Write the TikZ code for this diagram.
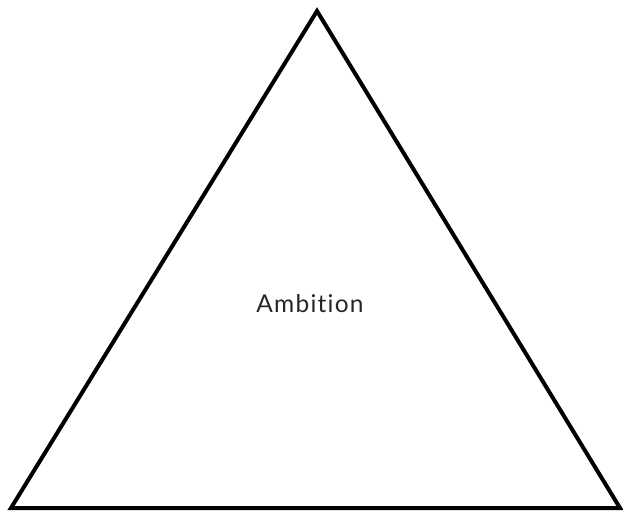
\documentclass[tikz,border=0pt]{standalone}
\usepackage{fontspec}
\setmainfont{Lato}[Ligatures={NoCommon,NoRequired,NoContextual},LetterSpace=5]
\begin{document}
\begin{tikzpicture}[x=1pt,y=-1pt,
  tri/.style={draw=black,line width=4pt,line join=miter},
  lbl/.style={font=\fontsize{24.5}{28}\selectfont,text=black!85}]
\useasboundingbox (0,0) rectangle (623,512);
\coordinate (top) at (317,11);
\coordinate (bl) at (11,508);
\coordinate (br) at (620,508);
\draw[tri] (top) -- (bl) -- (br) -- cycle;
\node[lbl] (amb) at (310,304) {Ambition};
\end{tikzpicture}
\end{document}
